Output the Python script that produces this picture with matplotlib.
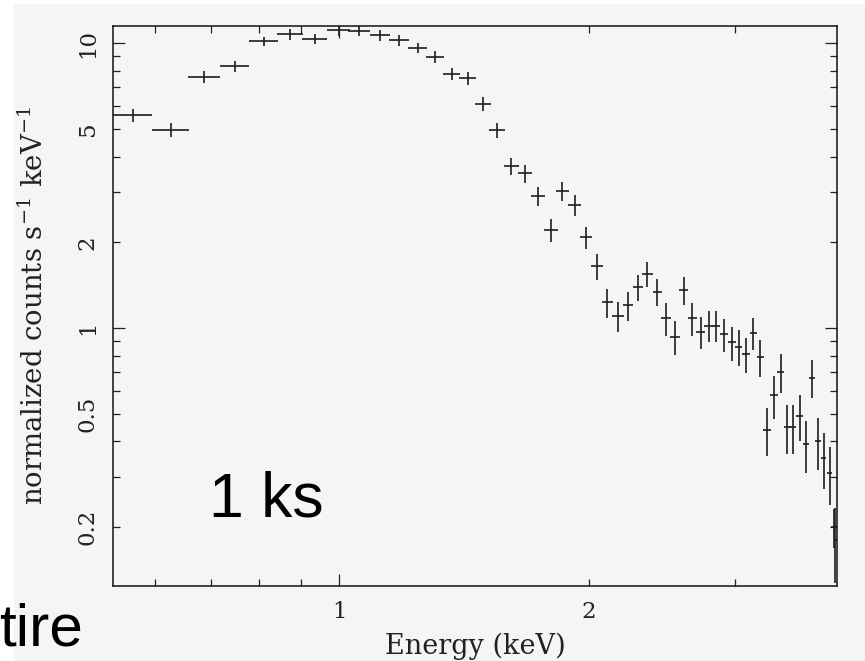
import matplotlib
matplotlib.use("Agg")
import matplotlib.pyplot as plt
from matplotlib.patches import Rectangle
from matplotlib.ticker import LogLocator, FuncFormatter

# ---- data ----
energy = [0.564, 0.626, 0.687, 0.748, 0.811, 0.873, 0.934, 0.998, 1.057, 1.120,
          1.180, 1.242, 1.303, 1.366, 1.427, 1.489, 1.549, 1.612, 1.675, 1.736,
          1.798, 1.857, 1.920, 1.983, 2.043, 2.104, 2.166, 2.228, 2.289, 2.351,
          2.416, 2.477, 2.539, 2.599, 2.662, 2.724, 2.787, 2.843, 2.910, 2.969,
          3.028, 3.093, 3.153, 3.217, 3.278, 3.340, 3.402, 3.466, 3.524, 3.585,
          3.646, 3.707, 3.770, 3.832, 3.897, 3.945, 3.960]
energy_err = [0.031, 0.032, 0.030, 0.031, 0.032, 0.032, 0.033, 0.032, 0.032, 0.031,
              0.032, 0.033, 0.032, 0.032, 0.033, 0.032, 0.034, 0.033, 0.033, 0.032,
              0.034, 0.034, 0.035, 0.034, 0.033, 0.031, 0.034, 0.033, 0.030, 0.034,
              0.032, 0.033, 0.035, 0.032, 0.033, 0.033, 0.033, 0.030, 0.032, 0.033,
              0.030, 0.033, 0.032, 0.033, 0.034, 0.034, 0.033, 0.031, 0.030, 0.031,
              0.031, 0.031, 0.031, 0.031, 0.031, 0.030, 0.015]
counts = [5.60, 4.97, 7.62, 8.32, 10.16, 10.75, 10.35, 11.11, 11.07, 10.67,
          10.24, 9.63, 8.95, 7.82, 7.55, 6.11, 4.94, 3.71, 3.49, 2.91,
          2.21, 3.03, 2.70, 2.08, 1.65, 1.23, 1.10, 1.20, 1.39, 1.55,
          1.34, 1.08, 0.93, 1.36, 1.08, 0.97, 1.02, 1.02, 0.95, 0.89,
          0.86, 0.81, 0.96, 0.79, 0.44, 0.58, 0.70, 0.45, 0.45, 0.49,
          0.39, 0.67, 0.40, 0.35, 0.31, 0.20, 0.18]
counts_err = [0.30, 0.27, 0.36, 0.38, 0.40, 0.46, 0.43, 0.50, 0.47, 0.46,
              0.44, 0.42, 0.41, 0.39, 0.39, 0.35, 0.30, 0.25, 0.25, 0.23,
              0.20, 0.23, 0.23, 0.19, 0.17, 0.145, 0.135, 0.143, 0.15, 0.16,
              0.15, 0.14, 0.125, 0.153, 0.14, 0.127, 0.13, 0.13, 0.125, 0.122,
              0.123, 0.115, 0.125, 0.117, 0.085, 0.10, 0.11, 0.088, 0.088, 0.09,
              0.081, 0.104, 0.083, 0.077, 0.072, 0.031, 0.053]

x_labels = [1, 2]
y_labels = [0.2, 0.5, 1, 2, 5, 10]

plt.rcParams["mathtext.fontset"] = "dejavuserif"

W, H = 865, 661
fig = plt.figure(figsize=(W / 100, H / 100), dpi=100, facecolor="#f5f5f5")
# white margins at left and top
fig.patches.append(Rectangle((0, 0), 14 / W, 1, transform=fig.transFigure,
                             facecolor="white", edgecolor="none", zorder=0))
fig.patches.append(Rectangle((0, (H - 4) / H), 1, 4 / H, transform=fig.transFigure,
                             facecolor="white", edgecolor="none", zorder=0))

L, R, T, B = 112.7, 837.0, 26.0, 586.0
ax = fig.add_axes([L / W, (H - B) / H, (R - L) / W, (B - T) / H])
ax.set_facecolor("#f5f5f5")

ax.errorbar(energy, counts, xerr=energy_err, yerr=counts_err, fmt="none",
            ecolor="#1e1e1e", elinewidth=1.2, capsize=0)

ax.set_xscale("log")
ax.set_yscale("log")
ax.set_xlim(0.533, 3.978)
ax.set_ylim(0.1241, 11.50)

for axis, labs in ((ax.xaxis, x_labels), (ax.yaxis, y_labels)):
    axis.set_major_locator(LogLocator(base=10))
    axis.set_minor_locator(LogLocator(base=10, subs=range(2, 10), numticks=20))
    f = FuncFormatter(lambda v, p, labs=labs: ("%g" % v) if any(abs(v - l) < 1e-6 * l for l in labs) else "")
    axis.set_major_formatter(f)
    axis.set_minor_formatter(f)

ax.tick_params(which="both", direction="in", top=True, right=True,
               color="#222222", width=0.9)
ax.tick_params(which="major", length=8.6)
ax.tick_params(which="minor", length=4.8)
ax.tick_params(axis="x", which="both", pad=11, labelsize=16.5, labelcolor="#222222")
ax.tick_params(axis="y", which="both", pad=10, labelsize=16.5, labelcolor="#222222",
               labelrotation=90)
for lab in ax.get_yticklabels(which="both"):
    lab.set_va("center")
for lab in ax.get_xticklabels(which="both") + ax.get_yticklabels(which="both"):
    lab.set_family("DejaVu Serif")

for sp in ax.spines.values():
    sp.set_color("#111111")
    sp.set_linewidth(1.1)

ax.set_xlabel("Energy (keV)", family="DejaVu Serif", fontsize=19.5, color="#222222")
ax.xaxis.set_label_coords((475 - L) / (R - L), -(633 - B) / (B - T))
ax.set_ylabel("normalized counts s$^{-1}$ keV$^{-1}$", family="DejaVu Serif",
              fontsize=19.8, color="#222222")
ax.yaxis.set_label_coords((49 - L) / (R - L), 0.50)

fig.text(209 / W, (H - 516.7) / H, "1 ks", family="Liberation Sans", fontsize=45,
         color="black", ha="left", va="baseline", zorder=5)
fig.text(-1 / W, (H - 645) / H, "tire", family="Liberation Sans", fontsize=43.5,
         color="black", ha="left", va="baseline", zorder=5)

fig.savefig("out.png", dpi=100, facecolor=fig.get_facecolor())
